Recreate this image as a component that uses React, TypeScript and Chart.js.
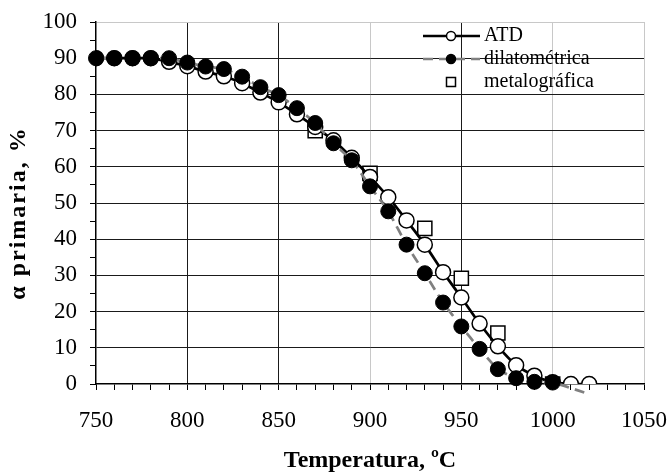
import React, { useEffect, useRef } from "react";
import { Chart, registerables } from "chart.js";

Chart.register(...registerables);

const atdTemps = [750, 760, 770, 780, 790, 800, 810, 820, 830, 840, 850, 860, 870, 880, 890, 900, 910, 920, 930, 940, 950, 960, 970, 980, 990, 1000, 1010, 1020];
const atdValues = [90, 90, 90, 90, 89, 87.8, 86.3, 85, 83.1, 80.5, 77.8, 74.5, 71, 67.3, 62.5, 57.2, 51.6, 45.2, 38.5, 30.9, 23.9, 16.7, 10.4, 5.2, 2.3, 0.5, 0, 0];

const dilTemps = [750, 760, 770, 780, 790, 800, 810, 820, 830, 840, 850, 860, 870, 880, 890, 900, 910, 920, 930, 940, 950, 960, 970, 980, 990, 1000, 1020];
const dilValues = [90, 90, 90, 90, 90, 88.8, 87.7, 87, 84.9, 82, 79.8, 76.2, 72.1, 66.5, 61.8, 54.6, 47.7, 38.5, 30.6, 22.5, 15.9, 9.7, 4.1, 1.6, 0.6, 0.4, -2.8];
// last dilatometric entry is the end of the fitted dashed curve (no marker)

const metTemps = [870, 900, 930, 950, 970, 1000];
const metValues = [70, 58.2, 43, 29.2, 14.1, 0];

const seriesLabels = ["ATD", "dilatométrica", "metalográfica"];
const xTitle = "Temperatura, ºC";
const yTitle = "α primaria, %";

const SERIF = '"Liberation Serif", "Times New Roman", serif';

const pts = (xs: number[], ys: number[]) => xs.map((x, i) => ({ x, y: ys[i] }));

const legendPlugin = {
  id: "customLegend",
  afterDraw(chart: any) {
    const ctx = chart.ctx;
    const ca = chart.chartArea;
    ctx.save();
    // axis titles
    ctx.fillStyle = "#000";
    ctx.font = `bold 24px ${SERIF}`;
    ctx.textAlign = "center";
    ctx.textBaseline = "alphabetic";
    ctx.fillText(xTitle, (ca.left + ca.right) / 2, 467);
    ctx.save();
    ctx.translate(25, 213);
    ctx.rotate(-Math.PI / 2);
    try { (ctx as any).letterSpacing = "2px"; } catch (e) {}
    ctx.fillText(yTitle, 0, 0);
    try { (ctx as any).letterSpacing = "0px"; } catch (e) {}
    ctx.restore();

    // legend
    const rows = [36, 59, 82];
    const x0 = 423, x1 = 480, xm = 451, tx = 484;
    chart.data.datasets.forEach((ds: any, i: number) => {
      const y = rows[i];
      if (i < 2) {
        ctx.beginPath();
        ctx.strokeStyle = ds.borderColor;
        ctx.lineWidth = ds.borderWidth;
        ctx.setLineDash(ds.borderDash || []);
        ctx.moveTo(x0, y);
        ctx.lineTo(x1, y);
        ctx.stroke();
        ctx.setLineDash([]);
      }
      ctx.beginPath();
      ctx.lineWidth = 1.5;
      ctx.strokeStyle = "#000";
      ctx.fillStyle = i === 1 ? "#000" : "#fff";
      if (i === 2) {
        ctx.rect(xm - 4.5, y - 4.5, 9, 9);
      } else {
        ctx.arc(xm, y, 4.5, 0, Math.PI * 2);
      }
      ctx.fill();
      ctx.stroke();
      ctx.fillStyle = "#000";
      ctx.font = `20px ${SERIF}`;
      ctx.textBaseline = "middle";
      ctx.textAlign = "left";
      ctx.fillText(ds.label, tx, y);
    });
    ctx.restore();
  },
};

const lightGrid = "#c8c8c8";
const darkGrid = "#1a1a1a";

export default function App() {
  const ref = useRef<HTMLCanvasElement>(null);
  useEffect(() => {
    document.body.style.margin = "0";
    const chart = new Chart(ref.current!, {
      type: "scatter",
      data: {
        datasets: [
          {
            label: seriesLabels[0],
            data: pts(atdTemps, atdValues),
            showLine: true,
            borderColor: "#000",
            borderWidth: 2.7,
            pointRadius: 7.5,
            pointBorderWidth: 1.5,
            pointBackgroundColor: "#fff",
            pointBorderColor: "#000",
            tension: 0.2,
            order: 1,
          },
          {
            label: seriesLabels[1],
            data: pts(dilTemps, dilValues),
            showLine: true,
            borderColor: "#808080",
            borderWidth: 2.7,
            borderDash: [10, 6],
            pointRadius: (c: any) => (c.dataIndex === dilTemps.length - 1 ? 0 : 7.5),
            pointBorderWidth: 1,
            pointBackgroundColor: "#000",
            pointBorderColor: "#000",
            tension: 0.2,
            clip: false as any,
            order: 0,
          },
          {
            label: seriesLabels[2],
            data: pts(metTemps, metValues),
            showLine: false,
            pointStyle: "rect",
            pointRadius: 10,
            pointBorderWidth: 1.5,
            pointBackgroundColor: "#fff",
            pointBorderColor: "#000",
            order: 2,
          },
        ] as any,
      },
      options: {
        animation: false,
        responsive: false,
        events: [],
        layout: { padding: { top: 22, right: 26, left: 0, bottom: 0 } },
        plugins: { legend: { display: false }, tooltip: { enabled: false } },
        scales: {
          x: {
            type: "linear",
            min: 750,
            max: 1050,
            afterFit: (s: any) => { s.height = 90; },
            ticks: {
              stepSize: 10,
              autoSkip: false,
              maxRotation: 0,
              padding: 0,
              color: "#000",
              font: { family: SERIF, size: 23, lineHeight: 2.65 },
              callback: (v: any) => (Number(v) % 50 === 0 ? String(v) : ""),
            },
            grid: {
              color: (c: any) => {
                const v = c.tick?.value;
                if (v === 900 || v === 1000 || v === 1050) return lightGrid;
                if (v === 800 || v === 850 || v === 950) return darkGrid;
                return "rgba(0,0,0,0)";
              },
              tickColor: "#000",
              tickLength: 6,
              lineWidth: 1,
            },
            border: { display: true, color: "#000", width: 1.5 },
            title: { display: false },
          },
          y: {
            min: 0,
            max: 100,
            afterFit: (s: any) => { s.width = 96; },
            ticks: {
              stepSize: 5,
              autoSkip: false,
              padding: 13,
              color: "#000",
              font: { family: SERIF, size: 23, lineHeight: 0.5 },
              callback: (v: any) => (Number(v) % 10 === 0 ? String(v) : ""),
            },
            grid: {
              color: (c: any) => {
                const v = c.tick?.value;
                if (v === 100) return lightGrid;
                if (v === 0) return "rgba(0,0,0,0)";
                if (v % 10 === 0) return darkGrid;
                return "rgba(0,0,0,0)";
              },
              tickColor: "#000",
              tickLength: 6,
              lineWidth: 1,
            },
            border: { display: true, color: "#000", width: 1.5 },
            title: { display: false },
          },
        },
      } as any,
      plugins: [legendPlugin],
    });
    return () => chart.destroy();
  }, []);
  return (
    <div style={{ position: "absolute", left: 0, top: 0, width: 670, height: 474, background: "#fff" }}>
      <canvas ref={ref} width={670} height={474} />
    </div>
  );
}
